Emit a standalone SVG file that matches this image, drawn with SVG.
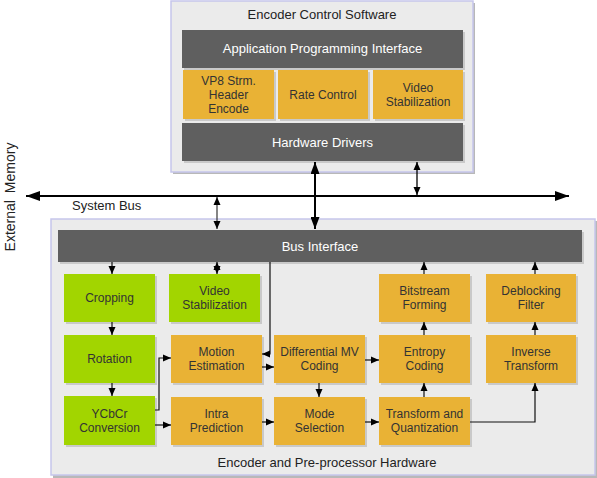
<svg xmlns="http://www.w3.org/2000/svg" width="597" height="478" viewBox="0 0 597 478">
<defs>
<style>
text{font-family:"Liberation Sans",Arial,sans-serif;text-anchor:middle}
.frame{fill:#ebebeb;stroke:#c6c6ec;stroke-width:1.5}
.fsh{fill:#b8b8b8}
.bar{fill:#5f5f5f}
.sh{fill:#c9c9c9}
.or{fill:#e9b235}
.gr{fill:#a2d500}
.wt{fill:#ffffff;font-size:13px}
.bt{fill:#333333;font-size:12px}
.lbl{fill:#222222;font-size:13px}
.c{fill:none;stroke:#111;stroke-width:1.2}
</style>
<marker id="ah" viewBox="0 0 8 8" refX="8" refY="4" markerWidth="8" markerHeight="8" markerUnits="userSpaceOnUse" orient="auto-start-reverse"><path d="M0,0.5 L8,4 L0,7.5 z" fill="#000"/></marker>
<marker id="am" viewBox="0 0 12 9" refX="12" refY="4.5" markerWidth="12" markerHeight="9" markerUnits="userSpaceOnUse" orient="auto-start-reverse"><path d="M0,0 L12,4.5 L0,9 z" fill="#000"/></marker>
<marker id="al" viewBox="0 0 14 10" refX="14" refY="5" markerWidth="14" markerHeight="10" markerUnits="userSpaceOnUse" orient="auto-start-reverse"><path d="M0,0 L14,5 L0,10 z" fill="#000"/></marker>
</defs>

<g id="encoder-control-software">
<rect class="fsh" x="173" y="3" width="302" height="171"/>
<rect class="frame" x="171" y="1" width="302" height="171"/>
<text class="lbl" x="322" y="19">Encoder Control Software</text>
</g>
<g id="api">
<rect class="sh" x="184" y="32" width="281" height="38"/>
<rect class="bar" x="182" y="30" width="281" height="38"/>
<text class="wt" x="322.5" y="53">Application Programming Interface</text>
</g>
<g id="vp8-header">
<rect class="sh" x="185" y="72" width="91" height="49"/>
<rect class="or" x="183" y="70" width="91" height="49"/>
<text class="bt" x="228.5" y="84.5">VP8 Strm.</text>
<text class="bt" x="228.5" y="98.5">Header</text>
<text class="bt" x="228.5" y="112.5">Encode</text>
</g>
<g id="rate-control">
<rect class="sh" x="280" y="72" width="90" height="49"/>
<rect class="or" x="278" y="70" width="90" height="49"/>
<text class="bt" x="323" y="98.5">Rate Control</text>
</g>
<g id="video-stab-sw">
<rect class="sh" x="375" y="72" width="90" height="49"/>
<rect class="or" x="373" y="70" width="90" height="49"/>
<text class="bt" x="418" y="91.5">Video</text>
<text class="bt" x="418" y="105.5">Stabilization</text>
</g>
<g id="hardware-drivers">
<rect class="sh" x="184" y="125" width="281" height="38"/>
<rect class="bar" x="182" y="123" width="281" height="38"/>
<text class="wt" x="322.5" y="146.5">Hardware Drivers</text>
</g>

<g id="external-memory">
<text class="lbl" font-size="14" transform="translate(15,197) rotate(-90)" style="font-size:14px;word-spacing:3px">External Memory</text>
</g>
<g id="system-bus-label">
<text class="lbl" x="72" y="210" style="text-anchor:start">System Bus</text>
</g>

<g id="encoder-hardware">
<rect class="fsh" x="53" y="221" width="544" height="257"/>
<rect class="frame" x="51" y="219" width="544" height="256"/>
<text class="lbl" x="327" y="467">Encoder and Pre-processor Hardware</text>
</g>
<g id="bus-interface">
<rect class="sh" x="60" y="232" width="524" height="32"/>
<rect class="bar" x="58" y="230" width="524" height="32"/>
<text class="wt" x="320" y="250.5">Bus Interface</text>
</g>

<g id="cropping">
<rect class="sh" x="66" y="276" width="91" height="48"/>
<rect class="gr" x="64" y="274" width="91" height="48"/>
<text class="bt" x="109.5" y="302">Cropping</text>
</g>
<g id="video-stab-hw">
<rect class="sh" x="171" y="276" width="91" height="48"/>
<rect class="gr" x="169" y="274" width="91" height="48"/>
<text class="bt" x="214.5" y="294.5">Video</text>
<text class="bt" x="214.5" y="308.5">Stabilization</text>
</g>
<g id="bitstream-forming">
<rect class="sh" x="381" y="276" width="91" height="48"/>
<rect class="or" x="379" y="274" width="91" height="48"/>
<text class="bt" x="424.5" y="294.5">Bitstream</text>
<text class="bt" x="424.5" y="308.5">Forming</text>
</g>
<g id="deblocking-filter">
<rect class="sh" x="488" y="276" width="90" height="48"/>
<rect class="or" x="486" y="274" width="90" height="48"/>
<text class="bt" x="531" y="294.5">Deblocking</text>
<text class="bt" x="531" y="308.5">Filter</text>
</g>

<g id="rotation">
<rect class="sh" x="66" y="337" width="91" height="48"/>
<rect class="gr" x="64" y="335" width="91" height="48"/>
<text class="bt" x="109.5" y="363">Rotation</text>
</g>
<g id="motion-estimation">
<rect class="sh" x="173" y="337" width="91" height="48"/>
<rect class="or" x="171" y="335" width="91" height="48"/>
<text class="bt" x="216.5" y="356">Motion</text>
<text class="bt" x="216.5" y="370">Estimation</text>
</g>
<g id="differential-mv">
<rect class="sh" x="276" y="337" width="91" height="48"/>
<rect class="or" x="274" y="335" width="91" height="48"/>
<text class="bt" x="319.5" y="356">Differential MV</text>
<text class="bt" x="319.5" y="370">Coding</text>
</g>
<g id="entropy-coding">
<rect class="sh" x="381" y="337" width="91" height="48"/>
<rect class="or" x="379" y="335" width="91" height="48"/>
<text class="bt" x="424.5" y="356">Entropy</text>
<text class="bt" x="424.5" y="370">Coding</text>
</g>
<g id="inverse-transform">
<rect class="sh" x="488" y="337" width="90" height="48"/>
<rect class="or" x="486" y="335" width="90" height="48"/>
<text class="bt" x="531" y="356">Inverse</text>
<text class="bt" x="531" y="370">Transform</text>
</g>

<g id="ycbcr">
<rect class="sh" x="66" y="398" width="91" height="49"/>
<rect class="gr" x="64" y="396" width="91" height="49"/>
<text class="bt" x="109.5" y="417.5">YCbCr</text>
<text class="bt" x="109.5" y="431.5">Conversion</text>
</g>
<g id="intra-prediction">
<rect class="sh" x="173" y="399" width="91" height="48"/>
<rect class="or" x="171" y="397" width="91" height="48"/>
<text class="bt" x="216.5" y="417.5">Intra</text>
<text class="bt" x="216.5" y="431.5">Prediction</text>
</g>
<g id="mode-selection">
<rect class="sh" x="276" y="399" width="91" height="48"/>
<rect class="or" x="274" y="397" width="91" height="48"/>
<text class="bt" x="319.5" y="417.5">Mode</text>
<text class="bt" x="319.5" y="431.5">Selection</text>
</g>
<g id="transform-quant">
<rect class="sh" x="381" y="399" width="91" height="48"/>
<rect class="or" x="379" y="397" width="91" height="48"/>
<text class="bt" x="424.5" y="417.5">Transform and</text>
<text class="bt" x="424.5" y="431.5">Quantization</text>
</g>

<g id="connectors">
<path d="M26,196 H569" fill="none" stroke="#000" stroke-width="2" marker-start="url(#al)" marker-end="url(#al)"/>
<path d="M315,162 V229" fill="none" stroke="#000" stroke-width="2" marker-start="url(#am)" marker-end="url(#am)"/>
<path d="M417,162 V195" fill="none" stroke="#000" stroke-width="1.3" marker-start="url(#ah)" marker-end="url(#ah)"/>
<path d="M217,197 V229" fill="none" stroke="#444" stroke-width="1.3" marker-start="url(#ah)" marker-end="url(#ah)"/>
<path class="c" d="M112,262 V274" marker-end="url(#ah)"/>
<path class="c" d="M217,262 V274" marker-start="url(#ah)" marker-end="url(#ah)"/>
<path class="c" d="M112,322 V335" marker-end="url(#ah)"/>
<path class="c" d="M112,383 V396" marker-end="url(#ah)"/>
<path class="c" d="M270,262 V354 H262" marker-end="url(#ah)"/>
<path class="c" d="M262,367 H274" marker-end="url(#ah)"/>
<path class="c" d="M365,360 H379" marker-end="url(#ah)"/>
<path class="c" d="M319,383 V397" marker-end="url(#ah)"/>
<path class="c" d="M155,410 H159 V358 H171" marker-end="url(#ah)"/>
<path class="c" d="M155,425 H171" marker-end="url(#ah)"/>
<path class="c" d="M262,422 H274" marker-end="url(#ah)"/>
<path class="c" d="M365,422 H379" marker-end="url(#ah)"/>
<path class="c" d="M424,397 V383" marker-end="url(#ah)"/>
<path class="c" d="M470,422 H535 V383" stroke="#333" marker-end="url(#ah)"/>
<path class="c" d="M424,335 V322" marker-end="url(#ah)"/>
<path class="c" d="M424,274 V262" marker-end="url(#ah)"/>
<path class="c" d="M535,335 V322" marker-end="url(#ah)"/>
<path class="c" d="M535,274 V262" marker-end="url(#ah)"/>
</g>
</svg>
